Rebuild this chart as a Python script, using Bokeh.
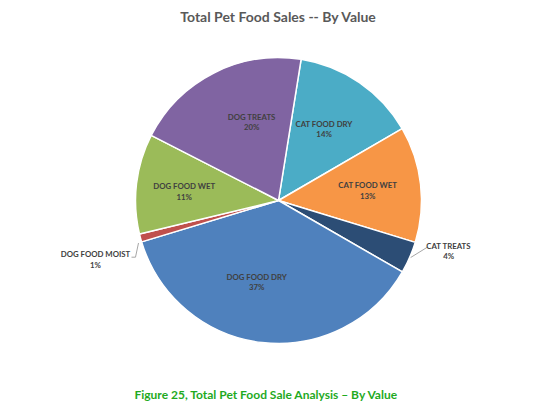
import math
from bokeh.plotting import figure
from bokeh.models import Range1d
from bokeh.core.properties import value
from bokeh.embed import file_html
from bokeh.resources import INLINE

# ---- data ----
categories = ["CAT FOOD DRY", "CAT FOOD WET", "CAT TREATS", "DOG FOOD DRY",
              "DOG FOOD MOIST", "DOG FOOD WET", "DOG TREATS"]
shares = [14.1, 13.1, 3.6, 37.0, 0.9, 11.3, 20.0]
colors = ["#4BACC6", "#F79646", "#2C4D75", "#4F81BD", "#C0504D", "#9BBB59", "#8064A2"]
title_text = "Total Pet Food Sales -- By Value"
caption_text = "Figure 25, Total Pet Food Sale Analysis \u2013 By Value"

# ---- layout (page pixels; y measured downward from top of picture) ----
W, H = 538, 405
PAGE_H = 417
CX, CY = 278, 200
R = 143
START_DEG = 9.1          # first slice starts 9.1 deg clockwise from 12 o'clock
LABEL_FRAC = 0.6
nudges = {"CAT FOOD DRY": (-3, -1), "CAT FOOD WET": (4, 0), "DOG FOOD DRY": (-12, -4),
          "DOG FOOD WET": (-9, 1), "DOG TREATS": (12, -2)}
outside = {"CAT TREATS": (39, -6.5), "DOG FOOD MOIST": (-45, 21.5)}
LINE_GAP = 5.2
FONT = "Lato"
LABEL_COLOR = "#404040"


def dy(page_y):
    return PAGE_H - page_y


p = figure(width=W, height=H, output_backend="svg", toolbar_location=None,
           x_range=Range1d(0, W), y_range=Range1d(PAGE_H - H, PAGE_H),
           x_axis_type=None, y_axis_type=None, min_border=0)
p.grid.visible = False
p.outline_line_color = None
p.background_fill_color = "white"
p.border_fill_color = "white"

total = sum(shares)
cum = START_DEG
starts, ends, mids = [], [], []
for v in shares:
    span = v / total * 360.0
    c1, c2 = cum, cum + span
    starts.append(math.radians(90 - c2))
    ends.append(math.radians(90 - c1))
    mids.append((c1 + c2) / 2)
    cum = c2

p.wedge(x=[CX] * len(shares), y=[dy(CY)] * len(shares), radius=R,
        start_angle=starts, end_angle=ends, fill_color=colors,
        line_color="white", line_width=1.5)

names_x, names_y, pct_x, pct_y, pct_txt = [], [], [], [], []
for cat, v, m in zip(categories, shares, mids):
    sx, sy = math.sin(math.radians(m)), -math.cos(math.radians(m))
    if cat in outside:
        ex, ey = CX + R * sx, CY + R * sy
        ox, oy = outside[cat]
        lx, ly = ex + ox, ey + oy
        if ox > 0:
            lxs = [ex + 1, lx - 21]
            lys = [ey, ly - 4]
        else:
            lxs = [ex - 2, lx + 40, lx + 36]
            lys = [ey + 5, ly - 2.3, ly - 2.3]
        p.line(lxs, [dy(t) for t in lys], line_color="#A6A6A6", line_width=1)
    else:
        nx, ny = nudges.get(cat, (0, 0))
        lx, ly = CX + LABEL_FRAC * R * sx + nx, CY + LABEL_FRAC * R * sy + ny
    names_x.append(lx); names_y.append(dy(ly - LINE_GAP))
    pct_x.append(lx); pct_y.append(dy(ly + LINE_GAP))
    pct_txt.append(f"{round(v / total * 100)}%")

p.text(x=names_x, y=names_y, text=categories, text_font=value(FONT),
       text_font_style="bold", text_font_size="7.8px", text_color=LABEL_COLOR,
       text_align="center", text_baseline="middle")
p.text(x=pct_x, y=pct_y, text=pct_txt, text_font=value(FONT),
       text_font_style="bold", text_font_size="7.8px", text_color=LABEL_COLOR,
       text_align="center", text_baseline="middle")

p.text(x=[278], y=[dy(16)], text=[title_text], text_font=value(FONT),
       text_font_style="bold", text_font_size="14px", text_color="#595959",
       text_align="center", text_baseline="middle")
p.text(x=[266], y=[dy(394)], text=[caption_text], text_font=value(FONT),
       text_font_style="bold", text_font_size="12px", text_color="#1FAA1F",
       text_align="center", text_baseline="middle")

open("out.html", "w").write(file_html(p, INLINE))
